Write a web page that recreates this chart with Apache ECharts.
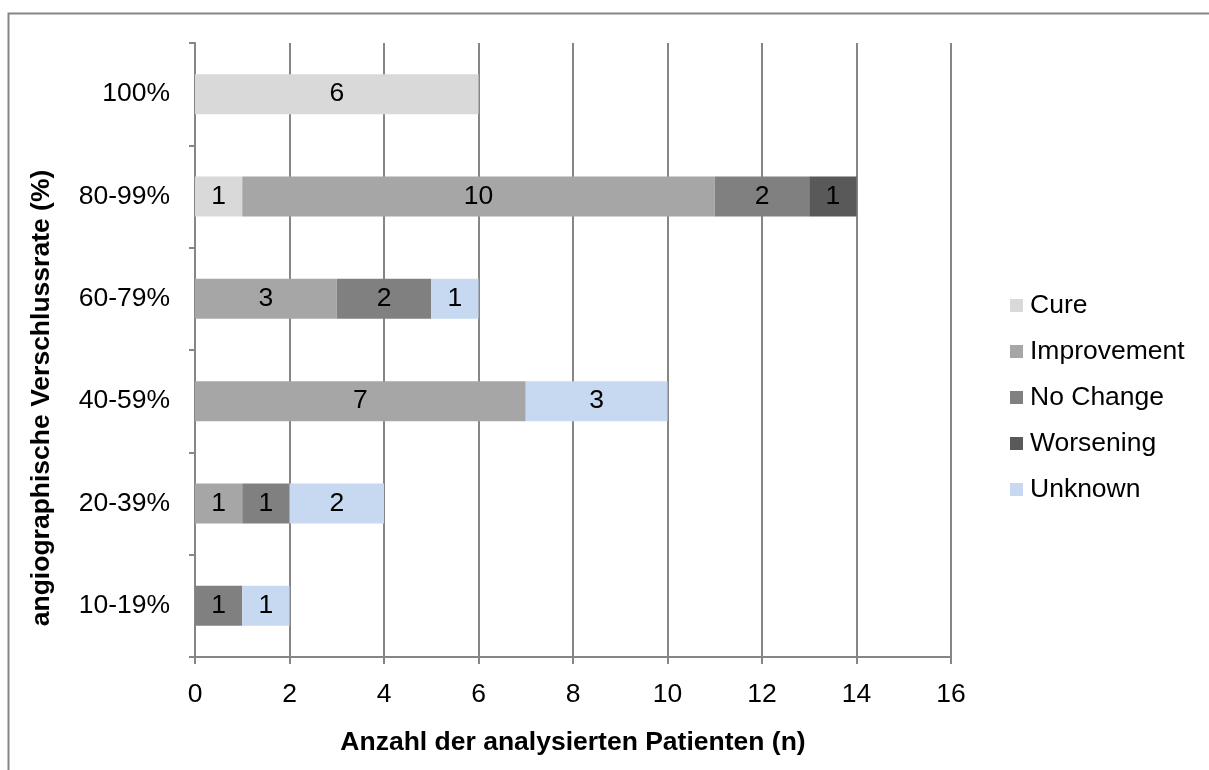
<!DOCTYPE html>
<html>
<head>
<meta charset="utf-8">
<script src="https://cdn.jsdelivr.net/npm/echarts@6/dist/echarts.min.js"></script>
<style>
  html, body { margin: 0; padding: 0; background: #fff; }
  #chart { width: 1209px; height: 770px; }
</style>
</head>
<body>
<div id="chart"></div>
<script>
// Occlusion-rate groups (bottom to top)
const categories = ['10-19%', '20-39%', '40-59%', '60-79%', '80-99%', '100%'];
const cure        = [0, 0, 0, 0, 1, 6];
const improvement = [0, 1, 7, 3, 10, 0];
const noChange    = [1, 1, 0, 2, 2, 0];
const worsening   = [0, 0, 0, 0, 1, 0];
const unknown     = [1, 2, 3, 1, 0, 0];
const xTicks = [0, 2, 4, 6, 8, 10, 12, 14, 16];

const seriesDefs = [
  { name: 'Cure',        data: cure,        color: '#d9d9d9' },
  { name: 'Improvement', data: improvement, color: '#a6a6a6' },
  { name: 'No Change',   data: noChange,    color: '#808080' },
  { name: 'Worsening',   data: worsening,   color: '#595959' },
  { name: 'Unknown',     data: unknown,     color: '#c6d9f1' }
];

const font = 'Liberation Sans, Arial, sans-serif';
const labelSize = 26.5;
const titleSize = 26.5;
const chart = echarts.init(document.getElementById('chart'), null, { renderer: 'canvas' });

chart.setOption({
  animation: false,
  backgroundColor: '#ffffff',
  graphic: [
    {
      // chart-area frame
      type: 'rect',
      shape: { x: 8.5, y: 13.5, width: 1220, height: 780 },
      style: { fill: 'none', stroke: '#868686', lineWidth: 2 },
      silent: true
    },
    {
      // vertical axis title
      type: 'text',
      x: 42, y: 398,
      rotation: Math.PI / 2,
      style: {
        text: 'angiographische Verschlussrate (%)',
        font: 'bold ' + titleSize + 'px ' + font,
        fill: '#000',
        align: 'center',
        verticalAlign: 'middle'
      },
      silent: true
    }
  ],
  grid: { left: 195, right: 258, top: 43, bottom: 113, containLabel: false },
  legend: {
    orient: 'vertical',
    left: 1005,
    top: 287,
    itemWidth: 13,
    itemHeight: 13,
    itemGap: 19,
    icon: 'rect',
    textStyle: { fontFamily: font, fontSize: labelSize, lineHeight: 26, color: '#000', padding: [0, 0, 0, 2] },
    data: seriesDefs.map(s => s.name)
  },
  xAxis: {
    type: 'value',
    min: 0, max: 16, interval: 2,
    name: 'Anzahl der analysierten Patienten (n)',
    nameLocation: 'middle',
    nameGap: 72,
    nameTextStyle: { fontFamily: font, fontSize: titleSize, fontWeight: 'bold', color: '#000' },
    axisLine: { show: true, lineStyle: { color: '#868686', width: 2 } },
    axisTick: { show: true, length: 7, lineStyle: { color: '#868686', width: 2 } },
    axisLabel: {
      fontFamily: font, fontSize: labelSize, color: '#000', margin: 24,
      formatter: v => xTicks.includes(v) ? String(v) : ''
    },
    splitLine: { show: true, lineStyle: { color: '#868686', width: 2 } }
  },
  yAxis: {
    type: 'category',
    data: categories,
    axisLine: { show: true, lineStyle: { color: '#868686', width: 2 } },
    axisTick: { show: true, length: 6, lineStyle: { color: '#868686', width: 2 } },
    axisLabel: { fontFamily: font, fontSize: labelSize, color: '#000', margin: 25 },
    splitLine: { show: false }
  },
  series: seriesDefs.map(s => ({
    name: s.name,
    type: 'bar',
    stack: 'total',
    barWidth: 40,
    itemStyle: { color: s.color },
    label: {
      show: true,
      position: 'inside',
      fontFamily: font,
      fontSize: labelSize,
      color: '#000',
      formatter: p => (p.value > 0 ? String(p.value) : '')
    },
    data: s.data
  }))
});
</script>
</body>
</html>
